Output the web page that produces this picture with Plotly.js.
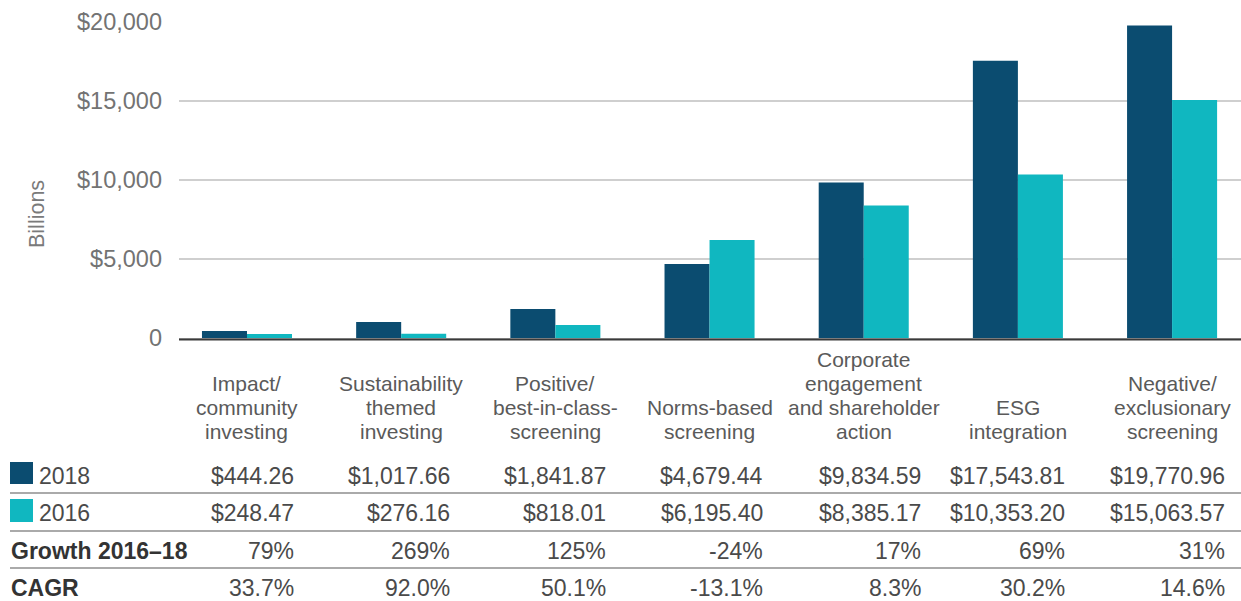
<!DOCTYPE html>
<html>
<head>
<meta charset="utf-8">
<script src="https://cdn.plot.ly/plotly-3.0.1.min.js"></script>
<style>html,body{margin:0;padding:0;background:#fff;}#chart{width:1241px;height:601px;}</style>
</head>
<body>
<div id="chart"></div>
<script>
// ---- data ----
const categories = ["Impact/ community investing", "Sustainability themed investing", "Positive/ best-in-class-screening", "Norms-based screening", "Corporate engagement and shareholder action", "ESG integration", "Negative/ exclusionary screening"];
const categoryLines = [
  ["Impact/", "community", "investing"],
  ["Sustainability", "themed", "investing"],
  ["Positive/", "best-in-class-", "screening"],
  ["Norms-based", "screening"],
  ["Corporate", "engagement", "and shareholder", "action"],
  ["ESG", "integration"],
  ["Negative/", "exclusionary", "screening"]
];
const seriesNames = ["2018", "2016"];
const values2018 = [444.26, 1017.66, 1841.87, 4679.44, 9834.59, 17543.81, 19770.96];
const values2016 = [248.47, 276.16, 818.01, 6195.40, 8385.17, 10353.20, 15063.57];
const growth = ["79%", "269%", "125%", "-24%", "17%", "69%", "31%"];
const cagr = ["33.7%", "92.0%", "50.1%", "-13.1%", "8.3%", "30.2%", "14.6%"];
const yTickVals = [0, 5000, 10000, 15000, 20000];
const yTickText = ["0", "$5,000", "$10,000", "$15,000", "$20,000"];
const rowLabels = ["2018", "2016", "Growth 2016\u201318", "CAGR"];

// ---- styles / layout constants ----
const C2018 = "#0b4c70", C2016 = "#10b7c0";
const FONT = "Liberation Sans, Arial, Helvetica, sans-serif";
const W = 1241, H = 601, L = 179, R = 0, T = 22, B = 263;
const plotW = W - L - R, plotH = H - T - B, baseY = H - B;
const px2x = p => (p - L) / plotW;
const px2y = p => (baseY - p) / plotH;
const colShift = [49, 51, 53, 55, 59, 49, 55];
const rowY = [476, 513, 551, 588];
const ruleY = [493, 531, 568];

function fmtMoney(v) {
  return "$" + v.toLocaleString("en-US", {minimumFractionDigits: 2, maximumFractionDigits: 2});
}

const traces = [
  {type: "bar", name: seriesNames[0], x: categories, y: values2018, marker: {color: C2018}, hoverinfo: "y"},
  {type: "bar", name: seriesNames[1], x: categories, y: values2016, marker: {color: C2016}, hoverinfo: "y"}
];

const annotations = [];
const shapes = [];

// y-axis title
annotations.push({xref: "paper", yref: "paper", x: px2x(37), y: px2y(214), text: "Billions", textangle: -90,
  showarrow: false, xanchor: "center", yanchor: "middle", font: {family: FONT, size: 21.5, color: "#7a7a7a"}});

// category labels (one annotation per line, bottom aligned)
categoryLines.forEach((lines, i) => {
  const n = lines.length;
  lines.forEach((ln, k) => {
    const fromBottom = n - 1 - k;
    annotations.push({xref: "x", yref: "paper", x: i, y: px2y(431 - 24 * fromBottom), text: ln, showarrow: false,
      xanchor: "center", yanchor: "middle", font: {family: FONT, size: 21, color: "#5a5a5a"}});
  });
});

// table rows
const rows = [values2018.map(fmtMoney), values2016.map(fmtMoney), growth, cagr];
rows.forEach((row, r) => {
  row.forEach((txt, i) => {
    annotations.push({xref: "x", yref: "paper", x: i, xshift: colShift[i], y: px2y(rowY[r]), text: txt, showarrow: false,
      xanchor: "right", yanchor: "middle", font: {family: FONT, size: 23, color: "#4a4a4a"}});
  });
});

// row labels
rowLabels.forEach((lab, r) => {
  const bold = r >= 2;
  annotations.push({xref: "paper", yref: "paper", x: px2x(bold ? 9 : 37), y: px2y(rowY[r]),
    text: bold ? "<b>" + lab + "</b>" : lab, showarrow: false, xanchor: "left", yanchor: "middle",
    font: {family: FONT, size: 23, color: bold ? "#333" : "#4a4a4a"}});
});

// legend squares
[[462, 484, C2018], [499, 522, C2016]].forEach(s => {
  shapes.push({type: "rect", xref: "paper", yref: "paper", x0: px2x(10), x1: px2x(33), y0: px2y(s[1]), y1: px2y(s[0]),
    fillcolor: s[2], line: {width: 0}});
});

// rule lines
ruleY.forEach(y => {
  shapes.push({type: "line", xref: "paper", yref: "paper", x0: px2x(10), x1: px2x(1241), y0: px2y(y), y1: px2y(y),
    line: {color: "#aaaaaa", width: 2}});
});

// dark baseline just under the zero gridline
shapes.push({type: "line", xref: "paper", yref: "paper", x0: 0, x1: 1, y0: px2y(339.5), y1: px2y(339.5),
  line: {color: "#3a3a3a", width: 2}});

const layout = {
  width: W, height: H,
  margin: {l: L, r: R, t: T, b: B, pad: 0},
  paper_bgcolor: "#fff", plot_bgcolor: "#fff",
  showlegend: false,
  barmode: "group", bargap: 0.416, bargroupgap: 0,
  xaxis: {type: "category", range: [-0.441, 6.447], showticklabels: false, showgrid: false, zeroline: false,
    showline: false, ticks: "", fixedrange: true},
  yaxis: {range: [0, 20000], tickvals: yTickVals, ticktext: yTickText, showgrid: true, gridcolor: "#cfcfcf", gridwidth: 2,
    zeroline: true, zerolinecolor: "#bdbdbd", zerolinewidth: 1, showline: false, ticks: "", ticklabelstandoff: 16,
    tickfont: {family: FONT, size: 23.5, color: "#737373"}, fixedrange: true},
  annotations: annotations,
  shapes: shapes
};

Plotly.newPlot("chart", traces, layout, {displayModeBar: false, staticPlot: true});
</script>
</body>
</html>
